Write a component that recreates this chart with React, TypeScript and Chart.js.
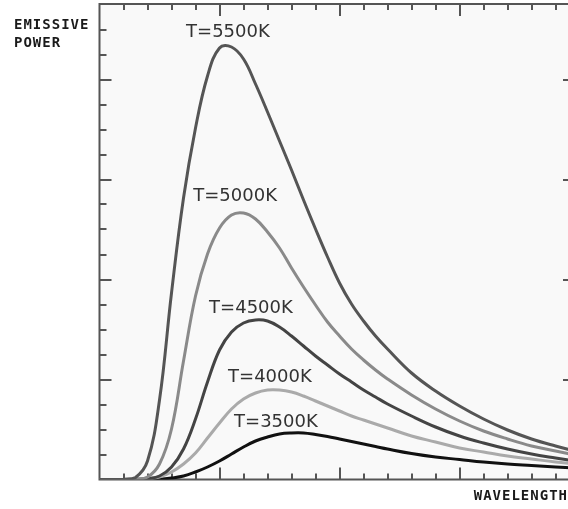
import React, { useEffect, useRef } from "react";
import { Chart, registerables } from "chart.js";

Chart.register(...registerables);

// Wavelength positions (arbitrary units, one unit per minor tick)
const wavelength = [0, 0.5, 1, 1.5, 2, 2.5, 3, 3.5, 4, 4.5, 5, 5.5, 6, 6.5, 7, 7.5, 8, 8.5, 9, 9.5, 10, 10.5, 11, 11.5, 12, 13, 14, 15, 16, 17, 18, 19, 19.81];

// Emissive power (arbitrary units, one unit per minor tick)
const power5500 = [0, 0, 0.01, 0.08, 0.74, 3.18, 7.46, 11.26, 14.06, 16.14, 17.26, 17.3, 16.82, 15.82, 14.7, 13.54, 12.38, 11.18, 10.02, 8.9, 7.86, 7.02, 6.34, 5.74, 5.22, 4.26, 3.54, 2.94, 2.42, 1.98, 1.62, 1.34, 1.14];
const power5000 = [0, 0, 0, 0.02, 0.1, 0.62, 2.02, 4.74, 7.34, 9.02, 10.06, 10.58, 10.66, 10.42, 9.9, 9.26, 8.46, 7.7, 6.98, 6.3, 5.74, 5.22, 4.78, 4.38, 4.02, 3.38, 2.82, 2.34, 1.94, 1.62, 1.34, 1.14, 0.98];
const power4500 = [0, 0, 0, 0.01, 0.04, 0.14, 0.5, 1.22, 2.42, 3.9, 5.18, 5.9, 6.26, 6.38, 6.34, 6.1, 5.74, 5.34, 4.94, 4.58, 4.22, 3.9, 3.58, 3.3, 3.02, 2.54, 2.1, 1.74, 1.46, 1.22, 1.02, 0.86, 0.74];
const power4000 = [0, 0, 0, 0, 0.02, 0.1, 0.3, 0.62, 1.06, 1.66, 2.26, 2.82, 3.22, 3.46, 3.58, 3.58, 3.5, 3.34, 3.14, 2.94, 2.74, 2.54, 2.38, 2.22, 2.06, 1.74, 1.5, 1.26, 1.1, 0.94, 0.82, 0.7, 0.62];
const power3500 = [0, 0, 0, 0, 0, 0.01, 0.06, 0.14, 0.3, 0.5, 0.74, 1.02, 1.3, 1.54, 1.7, 1.82, 1.86, 1.86, 1.8, 1.72, 1.62, 1.52, 1.42, 1.32, 1.22, 1.04, 0.9, 0.8, 0.7, 0.62, 0.56, 0.5, 0.46];

const seriesNames = ["T=5500K", "T=5000K", "T=4500K", "T=4000K", "T=3500K"];
const seriesValues = [power5500, power5000, power4500, power4000, power3500];
const seriesColors = ["#555555", "#8a8a8a", "#444444", "#aaaaaa", "#111111"];

// Label anchors in data units (centre x, baseline y)
const labelX = [5.35, 5.65, 6.31, 7.1, 7.35];
const labelY = [17.7, 11.14, 6.66, 3.9, 2.1];

const X_MAX = 19.81;
const Y_MAX = 19.02;

const framePlugin = {
  id: "frame",
  beforeDraw(chart: any) {
    const { ctx, chartArea: a, width, height } = chart;
    ctx.save();
    ctx.fillStyle = "#ffffff";
    ctx.fillRect(0, 0, width, height);
    ctx.fillStyle = "#f9f9f9";
    ctx.fillRect(a.left, a.top, a.right - a.left, a.bottom - a.top);
    ctx.restore();
  },
  beforeDatasetsDraw(chart: any) {
    const { ctx, chartArea: a, scales } = chart;
    const x = scales.x;
    const y = scales.y;
    ctx.save();
    ctx.strokeStyle = "#555555";
    ctx.lineWidth = 2;
    ctx.beginPath();
    for (let i = 1; i < X_MAX; i++) {
      const px = Math.round(x.getPixelForValue(i));
      const len = i % 5 === 0 ? 12 : 6;
      ctx.moveTo(px, a.bottom);
      ctx.lineTo(px, a.bottom - len);
      ctx.moveTo(px, a.top);
      ctx.lineTo(px, a.top + len);
    }
    for (let j = 1; j < Y_MAX; j++) {
      const py = Math.round(y.getPixelForValue(j));
      const len = j % 4 === 0 ? 12 : 7;
      ctx.moveTo(a.left, py);
      ctx.lineTo(a.left + len, py);
      ctx.moveTo(a.right, py);
      ctx.lineTo(a.right - len, py);
    }
    ctx.stroke();
    ctx.strokeRect(a.left, a.top, a.right - a.left, a.bottom - a.top);
    ctx.restore();
  },
  afterDatasetsDraw(chart: any) {
    const { ctx, scales } = chart;
    const x = scales.x;
    const y = scales.y;
    ctx.save();
    ctx.fillStyle = "#333333";
    ctx.font = '18px "DejaVu Sans"';
    ctx.textAlign = "center";
    ctx.textBaseline = "alphabetic";
    seriesNames.forEach((name, i) => {
      ctx.fillText(name, x.getPixelForValue(labelX[i]), y.getPixelForValue(labelY[i]));
    });
    ctx.fillStyle = "#1a1a1a";
    ctx.font = 'bold 14px "DejaVu Sans Mono"';
    (ctx as any).letterSpacing = "1px";
    ctx.textAlign = "left";
    ctx.fillText("EMISSIVE", 14, 29);
    ctx.fillText("POWER", 14, 47);
    ctx.textAlign = "right";
    ctx.fillText("WAVELENGTH", 568, 500);
    ctx.restore();
  },
};

export default function App() {
  const canvasRef = useRef<HTMLCanvasElement | null>(null);

  useEffect(() => {
    if (!canvasRef.current) return;
    const chart = new Chart(canvasRef.current, {
      type: "line",
      data: {
        datasets: seriesNames.map((name, i) => ({
          label: name,
          data: wavelength.map((w, k) => ({ x: w, y: seriesValues[i][k] })),
          borderColor: seriesColors[i],
          borderWidth: 3,
          pointRadius: 0,
          fill: false,
          tension: 0.4,
        })),
      },
      options: {
        animation: false,
        responsive: false,
        devicePixelRatio: 1,
        layout: { padding: { left: 99.5, top: 4, right: 10, bottom: 29.5 } },
        scales: {
          x: { type: "linear", min: 0, max: X_MAX, display: false },
          y: { type: "linear", min: 0, max: Y_MAX, display: false },
        },
        plugins: {
          legend: { display: false },
          tooltip: { enabled: false },
        },
      },
      plugins: [framePlugin],
    });
    return () => chart.destroy();
  }, []);

  return (
    <div style={{ position: "absolute", left: 0, top: 0, width: 568, height: 509, overflow: "hidden", background: "#fff" }}>
      <canvas ref={canvasRef} width={585} height={509} style={{ display: "block", width: 585, height: 509 }} />
    </div>
  );
}
